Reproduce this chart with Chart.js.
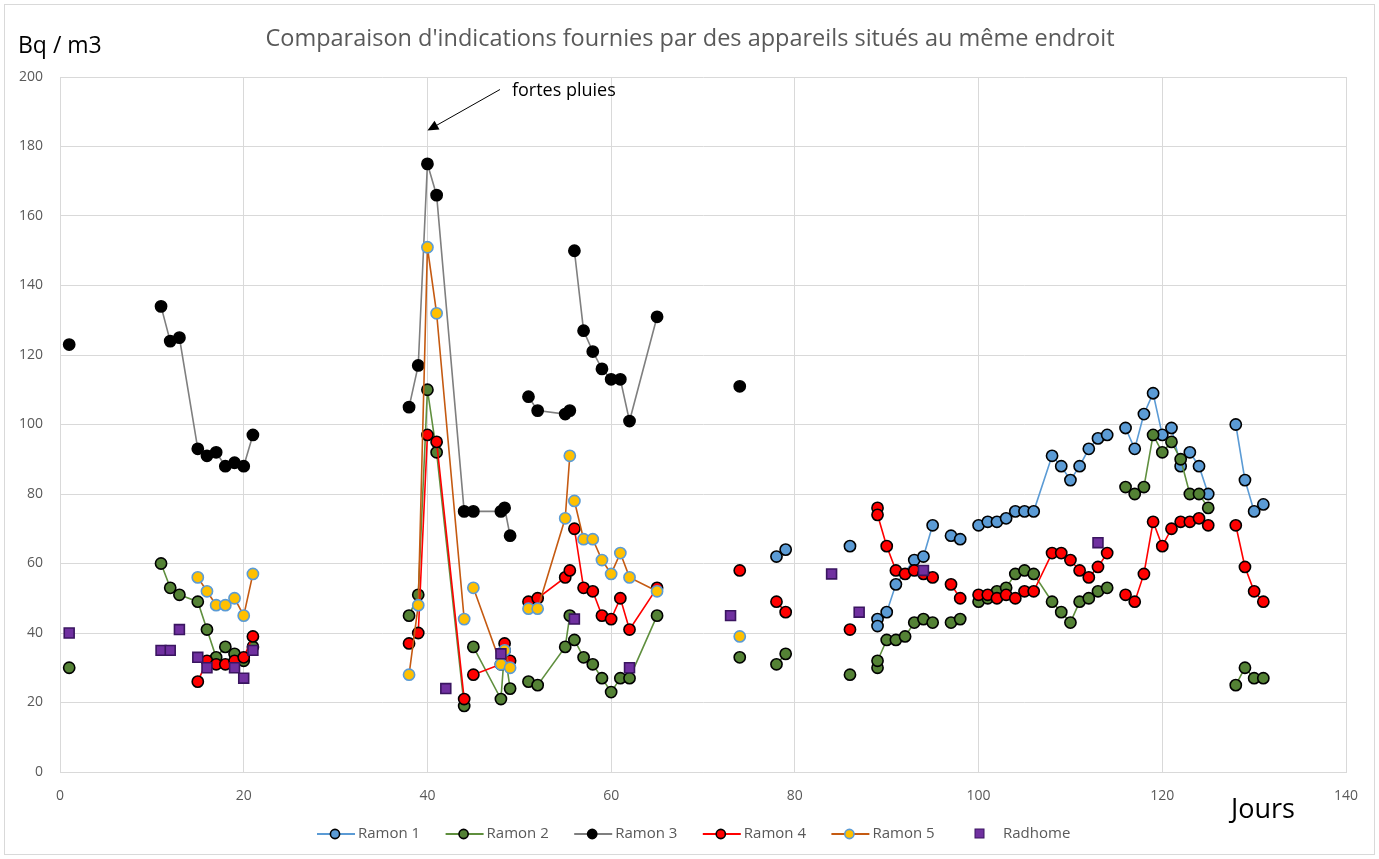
<!DOCTYPE html>
<html lang="fr">
<head>
<meta charset="utf-8">
<title>Comparaison d'indications</title>
<script src="https://cdn.jsdelivr.net/npm/chart.js@4.4.0/dist/chart.umd.min.js"></script>
<style>
  html, body { margin: 0; padding: 0; background: #fff; }
  #wrap { width: 1379px; height: 859px; }
</style>
</head>
<body>
<div id="wrap"><canvas id="chart" width="1379" height="859"></canvas></div>
<script>
// Données (null = coupure de la courbe)
const titre = "Comparaison d'indications fournies par des appareils situés au même endroit";
const nomsSeries = ['Ramon 1', 'Ramon 2', 'Ramon 3', 'Ramon 4', 'Ramon 5', 'Radhome'];
const ticksX = [0, 20, 40, 60, 80, 100, 120, 140];
const ticksY = [0, 20, 40, 60, 80, 100, 120, 140, 160, 180, 200];

const joursRamon1 = [78, 79, 80, 86, 87, 89, 89, 90, 91, 93, 94, 95, 96, 97, 98, 99,
  100, 101, 102, 103, 104, 105, 106, 108, 109, 110, 111, 112, 113, 114, 115,
  116, 117, 118, 119, 120, 121, 122, 123, 124, 125, 126, 128, 129, 130, 131];
const valeursRamon1 = [62, 64, null, 65, null, 44, 42, 46, 54, 61, 62, 71, null, 68, 67, null,
  71, 72, 72, 73, 75, 75, 75, 91, 88, 84, 88, 93, 96, 97, null,
  99, 93, 103, 109, 97, 99, 88, 92, 88, 80, null, 100, 84, 75, 77];

const joursRamon2 = [1, 5, 11, 12, 13, 15, 16, 17, 18, 19, 20, 21, 30,
  38, 39, 40, 41, 44, 44.5, 45, 48, 48.4, 49, 50,
  51, 52, 55, 55.5, 55.7, 56, 57, 58, 59, 60, 61, 62, 65, 70, 74, 76, 78, 79, 82, 86, 87,
  89, 89, 90, 91, 92, 93, 94, 95, 96, 97, 98, 99,
  100, 101, 102, 103, 104, 105, 106, 108, 109, 110, 111, 112, 113, 114, 115,
  116, 117, 118, 119, 120, 121, 122, 123, 124, 125, 126, 128, 129, 130, 131];
const valeursRamon2 = [30, null, 60, 53, 51, 49, 41, 33, 36, 34, 32, 36, null,
  45, 51, 110, 92, 19, null, 36, 21, 35, 24, null,
  26, 25, 36, 45, null, 38, 33, 31, 27, 23, 27, 27, 45, null, 33, null, 31, 34, null, 28, null,
  30, 32, 38, 38, 39, 43, 44, 43, null, 43, 44, null,
  49, 50, 52, 53, 57, 58, 57, 49, 46, 43, 49, 50, 52, 53, null,
  82, 80, 82, 97, 92, 95, 90, 80, 80, 76, null, 25, 30, 27, 27];

const joursRamon3 = [1, 5, 11, 12, 13, 15, 16, 17, 18, 19, 20, 21, 30,
  38, 39, 40, 41, 44, 45, 48, 48.4, 49, 50,
  51, 52, 55, 55.5, 55.7, 56, 57, 58, 59, 60, 61, 62, 65, 70, 74];
const valeursRamon3 = [123, null, 134, 124, 125, 93, 91, 92, 88, 89, 88, 97, null,
  105, 117, 175, 166, 75, 75, 75, 76, 68, null,
  108, 104, 103, 104, null, 150, 127, 121, 116, 113, 113, 101, 131, null, 111];

const joursRamon4 = [15, 16, 17, 18, 19, 20, 21, 30,
  38, 39, 40, 41, 44, 44.5, 45, 48, 48.4, 49, 50,
  51, 52, 55, 55.5, 55.7, 56, 57, 58, 59, 60, 61, 62, 65, 70, 74, 76, 78, 79, 82, 86, 87,
  89, 89, 90, 91, 92, 93, 94, 95, 96, 97, 98, 99,
  100, 101, 102, 103, 104, 105, 106, 108, 109, 110, 111, 112, 113, 114, 115,
  116, 117, 118, 119, 120, 121, 122, 123, 124, 125, 126, 128, 129, 130, 131];
const valeursRamon4 = [26, 32, 31, 31, 32, 33, 39, null,
  37, 40, 97, 95, 21, null, 28, 31, 37, 32, null,
  49, 50, 56, 58, null, 70, 53, 52, 45, 44, 50, 41, 53, null, 58, null, 49, 46, null, 41, null,
  76, 74, 65, 58, 57, 58, 57, 56, null, 54, 50, null,
  51, 51, 50, 51, 50, 52, 52, 63, 63, 61, 58, 56, 59, 63, null,
  51, 49, 57, 72, 65, 70, 72, 72, 73, 71, null, 71, 59, 52, 49];

const joursRamon5 = [15, 16, 17, 18, 19, 20, 21, 30,
  38, 39, 40, 41, 44, 44.5, 45, 48, 48.4, 49, 50,
  51, 52, 55, 55.5, 55.7, 56, 57, 58, 59, 60, 61, 62, 65, 70, 74];
const valeursRamon5 = [56, 52, 48, 48, 50, 45, 57, null,
  28, 48, 151, 132, 44, null, 53, 31, 35, 30, null,
  47, 47, 73, 91, null, 78, 67, 67, 61, 57, 63, 56, 52, null, 39];

const joursRadhome = [1, 11, 12, 13, 15, 16, 19, 20, 21, 42, 48, 56, 62, 73, 84, 87, 94, 113];
const valeursRadhome = [40, 35, 35, 41, 33, 30, 30, 27, 35, 24, 34, 44, 30, 45, 57, 46, 58, 66];

// Styles des séries (façon Excel)
const styles = [
  { line: '#5B9BD5', fill: '#5B9BD5', border: '#000000' },
  { line: '#5F8F3E', fill: '#548235', border: '#000000' },
  { line: '#7F7F7F', fill: '#000000', border: '#000000' },
  { line: '#FF0000', fill: '#FF0000', border: '#000000' },
  { line: '#C55A11', fill: '#FFC000', border: '#5B9BD5' },
  { line: null, fill: '#7030A0', border: '#3A1560' }
];

function versPoints(jours, valeurs) {
  return jours.map((j, i) => ({ x: j, y: valeurs[i] }));
}

const series = [
  versPoints(joursRamon1, valeursRamon1),
  versPoints(joursRamon2, valeursRamon2),
  versPoints(joursRamon3, valeursRamon3),
  versPoints(joursRamon4, valeursRamon4),
  versPoints(joursRamon5, valeursRamon5),
  versPoints(joursRadhome, valeursRadhome)
];

Chart.defaults.font.family = '"Open Sans", sans-serif';
Chart.defaults.color = '#595959';

const datasets = series.map((data, i) => {
  const s = styles[i];
  const estRadhome = i === 5;
  return {
    label: nomsSeries[i],
    data: data,
    showLine: !estRadhome,
    spanGaps: false,
    borderColor: s.line || s.fill,
    borderWidth: 1.6,
    pointStyle: estRadhome ? 'rect' : 'circle',
    pointRadius: estRadhome ? 7 : 5.6,
    pointBorderWidth: 1.6,
    pointBackgroundColor: s.fill,
    pointBorderColor: s.border,
    order: 6 - i
  };
});

// Textes, flèche, légende et cadre
const decor = {
  id: 'decor',
  beforeDraw(chart) {
    const ctx = chart.ctx;
    ctx.save();
    ctx.fillStyle = '#ffffff';
    ctx.fillRect(0, 0, chart.width, chart.height);
    ctx.restore();
  },
  afterDraw(chart) {
    const ctx = chart.ctx;
    const xs = chart.scales.x, ys = chart.scales.y;
    ctx.save();

    // cadre extérieur
    ctx.strokeStyle = '#d9d9d9';
    ctx.lineWidth = 1;
    ctx.strokeRect(4.5, 4.5, 1370, 850);

    // titre
    ctx.fillStyle = '#595959';
    ctx.font = '23.5px "Open Sans"';
    ctx.textAlign = 'center';
    ctx.textBaseline = 'alphabetic';
    ctx.fillText(titre, 690, 46);

    // unités
    ctx.fillStyle = '#000000';
    ctx.textAlign = 'left';
    ctx.font = '23px "Open Sans"';
    ctx.fillText('Bq / m3', 18, 53);
    ctx.font = '27px "Open Sans"';
    ctx.fillText('Jours', 1231, 818);

    // annotation "fortes pluies"
    ctx.font = '18px "Open Sans"';
    ctx.fillText('fortes pluies', xs.getPixelForValue(49.2), ys.getPixelForValue(194.5));
    const x0 = xs.getPixelForValue(47.9), y0 = ys.getPixelForValue(196.4);
    const x1 = xs.getPixelForValue(40), y1 = ys.getPixelForValue(184.6);
    const ang = Math.atan2(y1 - y0, x1 - x0);
    ctx.strokeStyle = '#000000';
    ctx.lineWidth = 1;
    ctx.beginPath();
    ctx.moveTo(x0, y0);
    ctx.lineTo(x1 - 8 * Math.cos(ang), y1 - 8 * Math.sin(ang));
    ctx.stroke();
    ctx.beginPath();
    ctx.moveTo(x1, y1);
    ctx.lineTo(x1 - 11 * Math.cos(ang) + 5 * Math.sin(ang), y1 - 11 * Math.sin(ang) - 5 * Math.cos(ang));
    ctx.lineTo(x1 - 11 * Math.cos(ang) - 5 * Math.sin(ang), y1 - 11 * Math.sin(ang) + 5 * Math.cos(ang));
    ctx.closePath();
    ctx.fillStyle = '#000000';
    ctx.fill();

    // légende
    const yL = 834;
    ctx.font = '15px "Open Sans"';
    ctx.textBaseline = 'middle';
    nomsSeries.forEach((nom, i) => {
      const s = styles[i];
      const x = 317 + i * 128.6;
      if (i < 5) {
        ctx.strokeStyle = s.line;
        ctx.lineWidth = 2;
        ctx.beginPath();
        ctx.moveTo(x, yL);
        ctx.lineTo(x + 38, yL);
        ctx.stroke();
        ctx.beginPath();
        ctx.arc(x + 18, yL, 4.6, 0, Math.PI * 2);
        ctx.fillStyle = s.fill;
        ctx.fill();
        ctx.strokeStyle = s.border;
        ctx.lineWidth = 1.6;
        ctx.stroke();
        ctx.fillStyle = '#595959';
        ctx.fillText(nom, x + 41, yL);
      } else {
        ctx.fillStyle = s.fill;
        ctx.fillRect(975, yL - 5, 9, 9);
        ctx.strokeStyle = s.border;
        ctx.lineWidth = 1;
        ctx.strokeRect(975, yL - 5, 9, 9);
        ctx.fillStyle = '#595959';
        ctx.fillText(nom, 1003, yL);
      }
    });

    ctx.restore();
  }
};

new Chart(document.getElementById('chart'), {
  type: 'scatter',
  data: { datasets: datasets },
  options: {
    responsive: false,
    animation: false,
    layout: { padding: { left: 0, right: 33, top: 77, bottom: 0 } },
    plugins: {
      legend: { display: false },
      title: { display: false },
      tooltip: { enabled: false }
    },
    scales: {
      x: {
        type: 'linear',
        min: 0,
        max: 140,
        afterBuildTicks: (scale) => { scale.ticks = ticksX.map(v => ({ value: v })); },
        afterFit: (scale) => { scale.height = 87; },
        grid: { color: '#d9d9d9', drawTicks: false },
        border: { color: '#d9d9d9' },
        ticks: { padding: 16, font: { size: 14 }, color: '#595959', maxRotation: 0 }
      },
      y: {
        type: 'linear',
        min: 0,
        max: 200,
        afterBuildTicks: (scale) => { scale.ticks = ticksY.map(v => ({ value: v })); },
        afterFit: (scale) => { scale.width = 60; },
        grid: { color: '#d9d9d9', drawTicks: false },
        border: { color: '#d9d9d9' },
        ticks: { padding: 17, font: { size: 14 }, color: '#595959' }
      }
    }
  },
  plugins: [decor]
});
</script>
</body>
</html>
